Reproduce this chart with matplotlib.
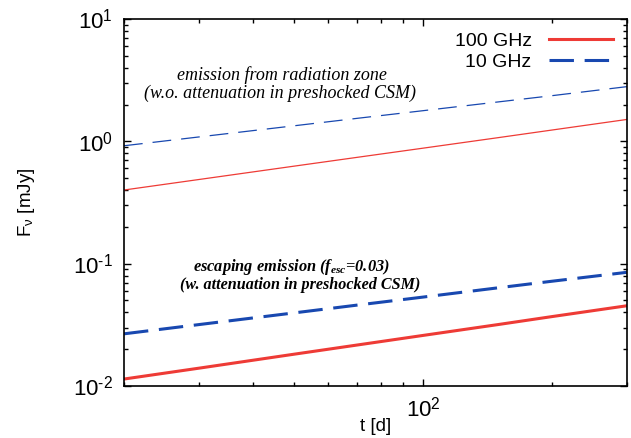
import matplotlib
matplotlib.use("Agg")
import numpy as np
import matplotlib.pyplot as plt
from matplotlib.ticker import LogLocator, NullFormatter, FuncFormatter

plt.rcParams['font.family'] = ['Liberation Sans', 'DejaVu Sans']
plt.rcParams['mathtext.fontset'] = 'custom'
plt.rcParams['mathtext.rm'] = 'Liberation Sans'
plt.rcParams['mathtext.sf'] = 'Liberation Sans'
plt.rcParams['mathtext.it'] = 'Liberation Serif:italic:bold'
plt.rcParams['mathtext.bf'] = 'Liberation Sans:bold'
plt.rcParams['axes.unicode_minus'] = False

# data
t_days = [20, 30, 50, 70, 100, 150, 200, 300]
rad_10ghz = [0.92, 1.087, 1.34, 1.54, 1.78, 2.10, 2.36, 2.80]
rad_100ghz = [0.40, 0.488, 0.627, 0.739, 0.879, 1.072, 1.236, 1.51]
esc_10ghz = [0.0267, 0.0318, 0.0396, 0.0458, 0.0533, 0.0635, 0.0718, 0.085]
esc_100ghz = [0.0114, 0.0140, 0.0182, 0.0216, 0.0259, 0.0318, 0.0369, 0.0453]

red = '#ee3b36'
blue = '#1848b0'

fig = plt.figure(figsize=(6.31, 4.38), dpi=100)
ax = fig.add_axes([124/631, 1-386/438, (627-124)/631, (386-19)/438])

ax.plot(t_days, rad_100ghz, color=red, lw=0.9)
ax.plot(t_days, rad_10ghz, color=blue, lw=0.9, dashes=(15, 8))
l1, = ax.plot(t_days, esc_100ghz, color=red, lw=2.2, label='100 GHz')
l2, = ax.plot(t_days, esc_10ghz, color=blue, lw=2.2, dashes=(8, 3.5), label='10 GHz')

ax.set_xscale('log')
ax.set_yscale('log')
ax.set_xlim(20, 300)
ax.set_ylim(1e-2, 1e1)


def pow_fmt(v, pos):
    n = int(round(np.log10(v)))
    if n < 0:
        return r'$10^{\text{-}%d}$' % (-n)
    return r'$10^{%d}$' % n


ax.xaxis.set_major_locator(LogLocator(base=10, numticks=10))
ax.xaxis.set_major_formatter(FuncFormatter(pow_fmt))
ax.xaxis.set_minor_locator(LogLocator(base=10, subs=range(2, 10), numticks=20))
ax.xaxis.set_minor_formatter(NullFormatter())
ax.yaxis.set_major_formatter(FuncFormatter(pow_fmt))
ax.yaxis.set_minor_locator(LogLocator(base=10, subs=range(2, 10), numticks=20))
ax.yaxis.set_minor_formatter(NullFormatter())

ax.tick_params(which='both', direction='in', top=True, right=True, width=1.0)
ax.tick_params(which='major', length=5, labelsize=16, pad=8)
ax.tick_params(which='minor', length=3)
for s in ax.spines.values():
    s.set_linewidth(1.2)

ax.set_xlabel('t [d]', fontsize=13.5)
ax.xaxis.set_label_coords(0.5, -0.088)
ax.set_ylabel(r'F$_{\mathrm{\nu}}$ [mJy]', fontsize=13.5, labelpad=26)

leg = ax.legend(handles=[l1, l2], loc='upper right', frameon=False, markerfirst=False,
                fontsize=14, handlelength=3.3, handletextpad=0.9, labelspacing=0.15,
                borderaxespad=0.3)

ax.text(0.314, 0.847, 'emission from radiation zone', transform=ax.transAxes,
        ha='center', va='center', family='Liberation Serif', style='italic', fontsize=13)
ax.text(0.310, 0.798, '(w.o. attenuation in preshocked CSM)', transform=ax.transAxes,
        ha='center', va='center', family='Liberation Serif', style='italic', fontsize=13)
ax.text(0.332, 0.325, r'escaping emission ($f_{esc}$=0.03)', transform=ax.transAxes,
        ha='center', va='center', family='Liberation Serif', style='italic',
        weight='bold', fontsize=11.8)
ax.text(0.350, 0.276, '(w. attenuation in preshocked CSM)', transform=ax.transAxes,
        ha='center', va='center', family='Liberation Serif', style='italic',
        weight='bold', fontsize=11.6)

fig.savefig('out.png', dpi=100)
